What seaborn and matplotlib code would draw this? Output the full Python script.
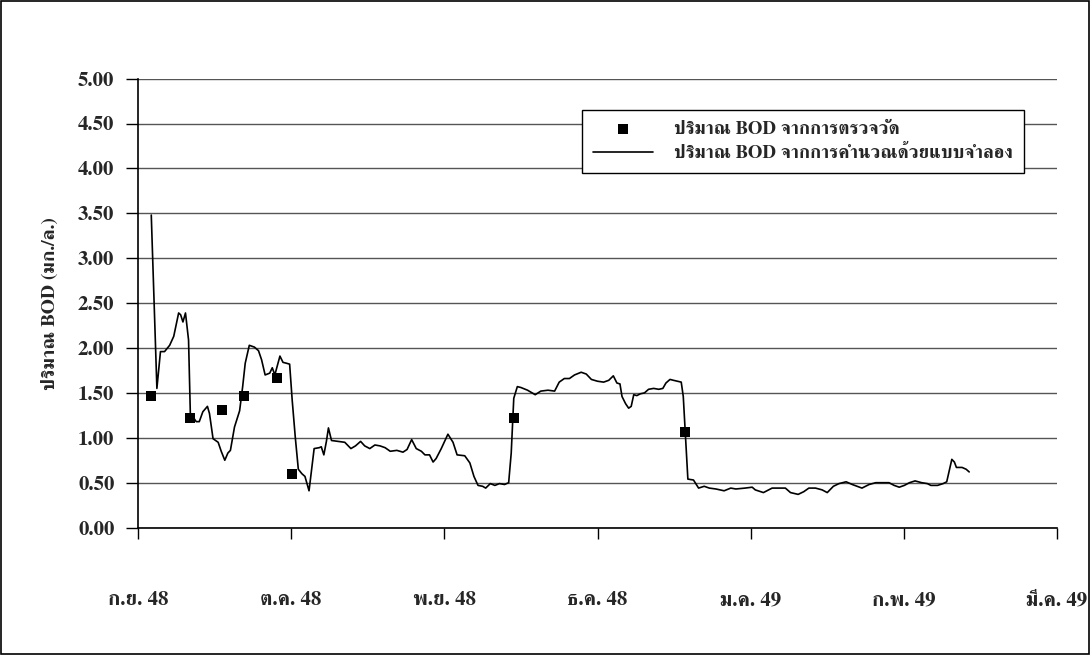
import matplotlib
matplotlib.use("Agg")
import matplotlib.pyplot as plt
from matplotlib.patches import Rectangle
import pandas as pd
import seaborn as sns

# Modelled BOD (mg/l), days counted from 1 Sep 2005
model_day = [2.6, 3.7, 4.4, 5.2, 6.2, 7.0, 7.96, 8.35, 8.8, 9.3, 9.9, 10.25, 10.8, 11.4,
             12.0, 12.7, 13.6, 14.0, 14.7, 15.7, 16.3, 17.0, 17.6, 18.1, 18.9, 19.9, 20.5,
             21.0, 21.8, 22.8, 23.6, 24.2, 24.9, 25.8, 26.3, 26.8, 27.8, 28.4, 29.1, 29.7,
             30.2, 30.8, 31.4, 32.1, 32.7, 33.5, 34.5, 35.5, 35.9, 36.4, 36.9, 37.3, 37.9,
             39.2, 40.5, 41.7, 42.6, 43.6, 44.4, 45.4, 46.4, 47.4, 48.4, 49.4, 50.7, 51.9,
             52.7, 53.6, 54.5, 55.5, 56.2, 57.1, 57.8, 58.4, 59.4, 60.7, 61.7, 62.5, 64.0,
             65.0, 65.8, 66.6, 67.5, 68.1, 69.0, 69.9, 70.8, 71.8, 72.6, 73.1, 73.6, 74.3,
             75.0, 76.3, 77.8, 78.9, 80.3, 81.6, 82.5, 83.5, 84.5, 85.5, 86.8, 87.8, 88.8,
             90.0, 91.2, 92.2, 93.1, 93.8, 94.4, 94.8, 95.5, 96.1, 96.6, 97.1, 97.7, 98.4,
             99.2, 100.0, 101.0, 102.0, 102.8, 103.4, 104.2, 104.9, 105.7, 106.4, 106.8,
             107.2, 107.7, 108.8, 109.8, 110.9, 111.9, 113.2, 114.8, 116.1, 117.1, 118.9,
             120.3, 120.9, 122.5, 124.2, 125.5, 126.8, 127.8, 129.3, 130.4, 131.4, 132.7,
             134.0, 135.0, 136.2, 137.3, 138.7, 139.9, 141.8, 143.2, 144.5, 145.8, 147.1,
             148.1, 149.1, 150.1, 151.1, 152.2, 153.5, 154.6, 155.3, 156.6, 157.7, 158.4,
             159.4, 159.9, 160.3, 161.4, 162.2, 162.8]
model_bod = [3.48, 1.55, 1.96, 1.96, 2.03, 2.13, 2.39, 2.37, 2.29, 2.39, 2.09, 1.27, 1.23, 1.18,
             1.18, 1.29, 1.35, 1.27, 0.99, 0.95, 0.85, 0.75, 0.83, 0.86, 1.12, 1.30, 1.57,
             1.83, 2.03, 2.01, 1.97, 1.87, 1.70, 1.72, 1.78, 1.70, 1.91, 1.84, 1.83, 1.82,
             1.42, 1.01, 0.65, 0.60, 0.57, 0.41, 0.88, 0.89, 0.90, 0.81, 0.96, 1.11, 0.97,
             0.96, 0.95, 0.88, 0.91, 0.96, 0.91, 0.88, 0.92, 0.91, 0.89, 0.85, 0.86, 0.84,
             0.87, 0.98, 0.88, 0.85, 0.81, 0.81, 0.73, 0.77, 0.88, 1.04, 0.95, 0.81, 0.80,
             0.72, 0.57, 0.47, 0.46, 0.44, 0.49, 0.47, 0.49, 0.48, 0.50, 0.83, 1.44, 1.57,
             1.56, 1.53, 1.48, 1.52, 1.53, 1.52, 1.62, 1.66, 1.66, 1.70, 1.73, 1.71, 1.65,
             1.63, 1.62, 1.64, 1.69, 1.61, 1.60, 1.46, 1.38, 1.33, 1.35, 1.48, 1.47, 1.49,
             1.50, 1.54, 1.55, 1.54, 1.55, 1.61, 1.65, 1.64, 1.63, 1.62, 1.46,
             1.05, 0.54, 0.53, 0.44, 0.46, 0.44, 0.43, 0.41, 0.44, 0.43, 0.44,
             0.45, 0.42, 0.39, 0.44, 0.44, 0.44, 0.39, 0.37, 0.40, 0.44, 0.44,
             0.42, 0.39, 0.46, 0.49, 0.51, 0.48, 0.44, 0.48, 0.50, 0.50, 0.50,
             0.47, 0.45, 0.47, 0.50, 0.52, 0.50, 0.49, 0.47, 0.47, 0.49, 0.51,
             0.76, 0.73, 0.67, 0.67, 0.65, 0.62]

# Field measurements of BOD (mg/l)
obs_day = [2.5, 10.1, 16.5, 20.7, 27.3, 30.1, 73.6, 107.2]
obs_bod = [1.46, 1.22, 1.31, 1.46, 1.67, 0.60, 1.22, 1.07]

month_ticks = [0, 30, 60, 90, 120, 150, 180]
month_labels = ["ก.ย. 48", "ต.ค. 48", "พ.ย. 48", "ธ.ค. 48", "ม.ค. 49", "ก.พ. 49", "มี.ค. 49"]
y_ticks = [0.0, 0.5, 1.0, 1.5, 2.0, 2.5, 3.0, 3.5, 4.0, 4.5, 5.0]

label_obs = "ปริมาณ BOD จากการตรวจวัด"
label_model = "ปริมาณ BOD จากการคำนวณด้วยแบบจำลอง"

sns.set_style("white")
plt.rcParams["font.family"] = ["FreeSerif", "Liberation Serif", "DejaVu Serif"]
plt.rcParams["font.weight"] = "bold"

model_df = pd.DataFrame({"day": model_day, "bod": model_bod})
obs_df = pd.DataFrame({"day": obs_day, "bod": obs_bod})

fig = plt.figure(figsize=(10.9, 6.55), dpi=100)
ax = fig.add_axes([138 / 1090, 1 - 527.6 / 655, (1057 - 138) / 1090, (527.6 - 78.6) / 655])

ax.yaxis.grid(True, color="#555555", linewidth=1.0)
ax.set_axisbelow(True)

sns.scatterplot(data=obs_df, x="day", y="bod", marker="s", s=60, color="black",
                edgecolor="black", linewidth=0, ax=ax, label=label_obs, zorder=3)
sns.lineplot(data=model_df, x="day", y="bod", color="black", linewidth=1.2,
             estimator=None, sort=False, ax=ax, label=label_model, zorder=2)

ax.set_xlim(0, 180)
ax.set_ylim(0, 5.0)
ax.set_xticks(month_ticks)
ax.set_xticklabels(month_labels)
ax.set_yticks(y_ticks)
ax.set_yticklabels([f"{v:.2f}" for v in y_ticks])
ax.tick_params(axis="y", direction="out", length=9, width=1, pad=8, labelsize=15,
               left=True, color="black")
ax.tick_params(axis="x", direction="out", length=8, width=1, pad=38, labelsize=15,
               bottom=True, color="black")
for lab in ax.get_xticklabels() + ax.get_yticklabels():
    lab.set_fontweight("bold")

for side in ["top", "right"]:
    ax.spines[side].set_visible(False)
for side in ["left", "bottom"]:
    ax.spines[side].set_color("black")
    ax.spines[side].set_linewidth(1.2)

ax.set_xlabel("")
ax.set_ylabel("ปริมาณ BOD (มก./ล.)", fontsize=14, fontweight="bold", labelpad=14)

leg = ax.legend(loc="upper left", bbox_to_anchor=(582 / 1090, 1 - 110 / 655),
                bbox_transform=fig.transFigure, frameon=True, fancybox=False,
                framealpha=1, edgecolor="black", fontsize=13.5, handlelength=3.2,
                borderpad=0.6, labelspacing=0.35, handletextpad=1.1, borderaxespad=0)
leg.get_frame().set_linewidth(1.0)
for t in leg.get_texts():
    t.set_fontweight("bold")

fig.patches.append(Rectangle((0.001, 0.0015), 0.998, 0.997, transform=fig.transFigure,
                             fill=False, edgecolor="black", linewidth=1.2))

fig.savefig("out.png", dpi=100)
